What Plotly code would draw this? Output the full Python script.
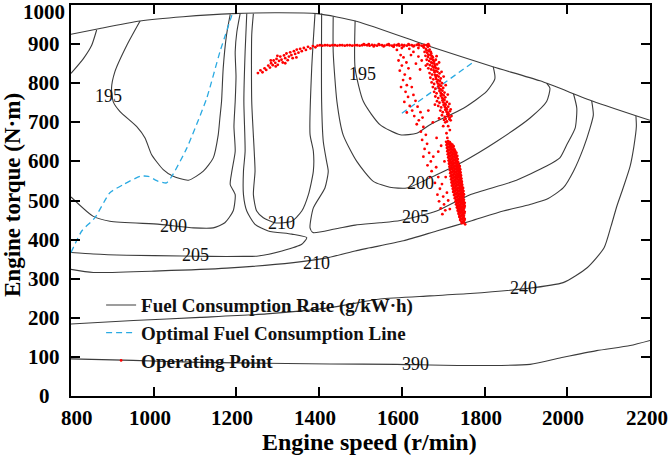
import plotly.graph_objects as go

# ---------------- axes ----------------
speed_ticks = [800, 1000, 1200, 1400, 1600, 1800, 2000, 2200]
torque_ticks = [0, 100, 200, 300, 400, 500, 600, 700, 800, 900, 1000]

# ---------------- fuel-consumption contours (speed r/min, torque N·m) ----------------
boundary_speed = [800, 870, 967, 1071, 1192, 1293, 1395, 1492, 1668, 1820, 1934, 2062, 2200]
boundary_torque = [925, 940, 959, 970, 978, 980, 978, 958, 894, 842, 806, 754, 705]

corner200_speed = [800, 830, 850, 862]
corner200_torque = [825, 863, 897, 936]

c195_left_speed = [967, 935, 906, 898, 902, 918, 959, 979, 995, 1023, 1047, 1084, 1120, 1144, 1156, 1160, 1164, 1168, 1176, 1185]
c195_left_torque = [959, 897, 829, 787, 753, 728, 689, 660, 617, 579, 562, 552, 575, 609, 668, 711, 753, 838, 923, 976]

c195_right_speed = [1487, 1487, 1507, 1547, 1596, 1636, 1668, 1749, 1805, 1825, 1821]
c195_right_torque = [960, 838, 753, 694, 668, 672, 694, 736, 779, 812, 842]

c200_left_speed = [1209, 1201, 1197, 1199, 1197, 1194, 1197, 1189, 1185, 1197, 1192, 1172, 1144, 1096, 1015, 894, 853, 800]
c200_left_torque = [978, 931, 880, 817, 753, 689, 626, 575, 541, 515, 473, 443, 430, 430, 439, 447, 460, 509]

c200_right_speed = [1434, 1434, 1443, 1458, 1491, 1531, 1571, 1612, 1684, 1749, 1829, 1910, 1950, 1958, 1950]
c200_right_torque = [970, 880, 753, 668, 600, 549, 534, 532, 566, 600, 651, 711, 753, 787, 800]

c205_left_speed = [1225, 1221, 1218, 1221, 1217, 1217, 1225, 1245, 1277, 1334, 1370, 1358, 1310, 1253, 1217, 1136, 1068, 935, 854, 800]
c205_left_torque = [978, 880, 753, 626, 575, 515, 473, 439, 422, 414, 405, 388, 371, 358, 357, 357, 358, 360, 363, 367]

c205_right_speed = [1406, 1406, 1410, 1418, 1422, 1414, 1386, 1378, 1385, 1438, 1487, 1547, 1596, 1684, 1765, 1870, 1950, 1982, 1999, 2019, 2023, 2015]
c205_right_torque = [978, 753, 651, 600, 575, 532, 481, 430, 418, 427, 437, 443, 449, 473, 515, 549, 588, 609, 643, 685, 736, 773]

c210_upper_speed = [1241, 1237, 1237, 1243, 1245, 1241, 1249, 1265, 1293, 1334, 1358, 1374, 1386, 1386, 1378, 1382, 1390]
c210_upper_torque = [978, 924, 753, 626, 575, 515, 473, 456, 443, 447, 473, 515, 575, 626, 669, 838, 978]

c210_lower_speed = [800, 854, 1015, 1177, 1338, 1422, 1487, 1523, 1604, 1684, 1765, 1845, 1910, 1950, 1990, 2015, 2039, 2055, 2063, 2059]
c210_lower_torque = [324, 316, 320, 327, 341, 354, 371, 379, 397, 422, 447, 473, 490, 503, 532, 575, 634, 685, 719, 755]

c240_speed = [800, 951, 1112, 1273, 1426, 1547, 1668, 1765, 1893, 1990, 2048, 2089, 2106, 2120, 2135, 2152, 2161, 2167, 2166]
c240_torque = [184, 193, 201, 210, 226, 248, 256, 262, 274, 290, 328, 379, 435, 486, 532, 588, 638, 689, 716]

c390_speed = [800, 950, 1112, 1426, 1588, 1749, 1910, 1990, 2071, 2152, 2200]
c390_torque = [95, 91, 86, 82, 81, 78, 81, 99, 116, 129, 142]

# contour labels
label_text = ["195", "195", "200", "200", "205", "205", "210", "210", "240", "390"]
label_speed = [890, 1504, 1047, 1644, 1102, 1632, 1310, 1394, 1894, 1632]
label_torque = [766, 824, 435, 546, 361, 458, 443, 341, 275, 81]

# ---------------- optimal fuel consumption line ----------------
optimal_speed = [800, 826, 858, 894, 927, 967, 987, 1011, 1031, 1044, 1080, 1128, 1160, 1189, None, 1600, 1777]
optimal_torque = [367, 422, 456, 520, 541, 562, 562, 549, 545, 562, 634, 761, 880, 974, None, 723, 857]

# ---------------- operating points (speed, torque) ----------------
op_streak = [(1252, 826), (1258, 833), (1263, 828), (1268, 838), (1272, 834), (1277, 845), (1281, 840),
             (1284, 851), (1288, 846), (1290, 858), (1294, 852), (1297, 862), (1300, 847), (1303, 857),
             (1306, 868), (1309, 860), (1312, 853), (1315, 871), (1318, 864), (1321, 876), (1324, 859),
             (1327, 868), (1330, 879), (1333, 872), (1336, 864), (1339, 882), (1342, 875), (1346, 886),
             (1350, 878), (1354, 888), (1358, 882), (1363, 890), (1368, 885), (1373, 893), (1379, 889),
             (1385, 895), (1391, 892), (1283, 858), (1299, 870), (1318, 851), (1345, 866), (1295, 843)]

op_fullload = [(1396, 896), (1402, 897), (1408, 896), (1414, 897), (1420, 897), (1426, 896), (1432, 897),
               (1438, 897), (1444, 896), (1450, 897), (1456, 897), (1462, 896), (1468, 897), (1474, 897),
               (1480, 896), (1486, 897), (1492, 897), (1498, 896), (1504, 897), (1510, 898), (1516, 897),
               (1522, 896), (1528, 898), (1534, 897), (1540, 896), (1546, 898), (1552, 897), (1558, 896),
               (1564, 898), (1570, 897), (1576, 896), (1582, 898), (1588, 897), (1594, 896), (1600, 898),
               (1606, 897), (1612, 896), (1618, 898), (1624, 897), (1630, 896), (1636, 898), (1642, 897),
               (1648, 896), (1654, 898), (1660, 897), (1666, 896), (1508, 900), (1520, 900), (1532, 894),
               (1544, 900), (1556, 894), (1568, 900), (1580, 894), (1592, 900), (1604, 894), (1616, 900),
               (1628, 894), (1640, 900), (1652, 894), (1664, 900)]

op_stream = [(1653, 891), (1658, 888), (1663, 893), (1667, 886), (1655, 880), (1661, 878), (1666, 882),
             (1671, 876), (1657, 870), (1663, 867), (1669, 872), (1675, 866), (1660, 860), (1666, 857),
             (1672, 862), (1678, 855), (1682, 860), (1662, 849), (1668, 846), (1674, 851), (1680, 844),
             (1685, 848), (1664, 838), (1671, 835), (1677, 840), (1683, 832), (1688, 837), (1667, 826),
             (1673, 822), (1679, 828), (1685, 820), (1691, 825), (1669, 814), (1676, 810), (1682, 816),
             (1688, 808), (1694, 812), (1672, 802), (1678, 798), (1685, 804), (1691, 796), (1697, 800),
             (1675, 790), (1681, 786), (1688, 792), (1694, 784), (1700, 788), (1678, 778), (1684, 774),
             (1691, 780), (1697, 772), (1703, 776), (1681, 766), (1688, 762), (1694, 768), (1700, 760),
             (1705, 764), (1685, 754), (1691, 750), (1698, 756), (1704, 748), (1709, 752), (1688, 742),
             (1695, 738), (1701, 744), (1707, 736), (1712, 740), (1693, 730), (1699, 726), (1705, 732),
             (1711, 724), (1716, 728), (1697, 718), (1704, 714), (1710, 720), (1716, 712), (1720, 716),
             (1702, 706), (1709, 702), (1715, 708), (1684, 869), (1690, 853), (1696, 829), (1701, 817),
             (1706, 795), (1711, 771), (1715, 747), (1718, 733),
             (1660, 884), (1670, 880), (1664, 873), (1673, 869), (1669, 863), (1676, 859), (1671, 853),
             (1679, 849), (1674, 843), (1682, 839), (1677, 833), (1686, 829), (1680, 821), (1689, 817),
             (1683, 811), (1692, 805), (1687, 799), (1695, 793), (1690, 787), (1698, 781), (1694, 775),
             (1701, 769), (1697, 763), (1703, 757), (1700, 751), (1706, 745), (1704, 739), (1709, 733),
             (1708, 727), (1713, 721), (1712, 715), (1706, 709)]

op_sparse = [(1588, 885), (1597, 872), (1592, 858), (1604, 866), (1600, 845), (1611, 853), (1595, 832),
             (1607, 822), (1603, 808), (1616, 838), (1612, 795), (1598, 790), (1620, 812), (1609, 778),
             (1624, 790), (1615, 765), (1606, 752), (1628, 770), (1619, 742), (1633, 755), (1625, 730),
             (1612, 725), (1638, 740), (1630, 716), (1645, 726), (1641, 705), (1650, 712), (1636, 695),
             (1652, 688), (1646, 676), (1658, 668), (1649, 655), (1661, 645), (1655, 632), (1666, 622),
             (1652, 612), (1670, 600), (1662, 590), (1676, 612), (1672, 575), (1683, 585), (1668, 560),
             (1688, 560), (1680, 545), (1692, 530), (1686, 515), (1697, 542), (1690, 498), (1700, 510),
             (1694, 480), (1702, 490), (1698, 465), (1705, 475), (1688, 625), (1695, 640), (1684, 660),
             (1700, 690), (1675, 700), (1690, 710), (1664, 730), (1680, 745), (1628, 880), (1640, 868),
             (1634, 850), (1648, 858), (1622, 872), (1644, 835), (1658, 845), (1618, 888), (1640, 890),
             (1580, 893), (1600, 890), (1703, 600), (1706, 560), (1709, 520), (1712, 500), (1716, 478),
             (1705, 700), (1712, 690), (1708, 672), (1716, 680), (1710, 660), (1718, 705)]

op_cluster = [(1707, 650), (1712, 652), (1716, 649),
              (1708, 642), (1713, 644), (1718, 641), (1722, 643),
              (1709, 634), (1714, 636), (1719, 633), (1724, 635),
              (1710, 626), (1715, 628), (1720, 625), (1725, 627), (1729, 626),
              (1711, 618), (1716, 620), (1721, 617), (1726, 619), (1730, 618),
              (1712, 610), (1717, 612), (1722, 609), (1727, 611), (1732, 610),
              (1713, 602), (1718, 604), (1723, 601), (1728, 603), (1733, 602),
              (1714, 594), (1719, 596), (1724, 593), (1729, 595), (1734, 594), (1737, 592),
              (1715, 586), (1720, 588), (1725, 585), (1730, 587), (1735, 586), (1739, 584),
              (1716, 578), (1721, 580), (1726, 577), (1731, 579), (1736, 578), (1740, 576),
              (1717, 570), (1722, 572), (1727, 569), (1732, 571), (1737, 570), (1741, 568),
              (1718, 562), (1723, 564), (1728, 561), (1733, 563), (1738, 562), (1742, 560),
              (1719, 554), (1724, 556), (1729, 553), (1734, 555), (1739, 554), (1743, 552),
              (1720, 546), (1725, 548), (1730, 545), (1735, 547), (1740, 546), (1744, 544),
              (1721, 538), (1726, 540), (1731, 537), (1736, 539), (1741, 538), (1745, 536),
              (1723, 530), (1728, 532), (1733, 529), (1738, 531), (1743, 530), (1746, 528),
              (1724, 522), (1729, 524), (1734, 521), (1739, 523), (1744, 522), (1747, 520),
              (1726, 514), (1731, 516), (1736, 513), (1741, 515), (1745, 514), (1748, 512),
              (1728, 506), (1733, 508), (1738, 505), (1743, 507), (1747, 506),
              (1730, 498), (1735, 500), (1740, 497), (1745, 499), (1749, 498),
              (1731, 490), (1736, 492), (1741, 489), (1746, 491), (1750, 490),
              (1733, 482), (1738, 484), (1743, 481), (1748, 483), (1751, 482),
              (1735, 474), (1740, 476), (1745, 473), (1749, 475),
              (1737, 466), (1742, 468), (1747, 465), (1751, 467),
              (1739, 458), (1744, 460), (1749, 457),
              (1741, 450), (1746, 452), (1751, 449),
              (1745, 442), (1750, 444)]

op_cluster_fill = [(1710, 646), (1715, 647), (1719, 645),
                   (1711, 638), (1716, 639), (1720, 637), (1725, 639),
                   (1712, 630), (1717, 631), (1722, 629), (1727, 631),
                   (1713, 622), (1718, 623), (1723, 621), (1728, 623), (1732, 622),
                   (1714, 614), (1719, 615), (1724, 613), (1729, 615), (1734, 614),
                   (1715, 606), (1720, 607), (1725, 605), (1730, 607), (1735, 606),
                   (1716, 598), (1721, 599), (1726, 597), (1731, 599), (1736, 598),
                   (1717, 590), (1722, 591), (1727, 589), (1732, 591), (1737, 590), (1740, 588),
                   (1718, 582), (1723, 583), (1728, 581), (1733, 583), (1738, 582), (1741, 580),
                   (1719, 574), (1724, 575), (1729, 573), (1734, 575), (1739, 574), (1742, 572),
                   (1720, 566), (1725, 567), (1730, 565), (1735, 567), (1740, 566), (1743, 564),
                   (1721, 558), (1726, 559), (1731, 557), (1736, 559), (1741, 558), (1744, 556),
                   (1722, 550), (1727, 551), (1732, 549), (1737, 551), (1742, 550), (1745, 548),
                   (1723, 542), (1728, 543), (1733, 541), (1738, 543), (1743, 542), (1746, 540),
                   (1725, 534), (1730, 535), (1735, 533), (1740, 535), (1745, 534), (1748, 532),
                   (1726, 526), (1731, 527), (1736, 525), (1741, 527), (1746, 526), (1749, 524),
                   (1728, 518), (1733, 519), (1738, 517), (1743, 519), (1747, 518), (1750, 516),
                   (1730, 510), (1735, 511), (1740, 509), (1745, 511), (1749, 510),
                   (1731, 502), (1736, 503), (1741, 501), (1746, 503), (1750, 502),
                   (1733, 494), (1738, 495), (1743, 493), (1748, 495), (1752, 494),
                   (1734, 486), (1739, 487), (1744, 485), (1749, 487), (1752, 486),
                   (1736, 478), (1741, 479), (1746, 477), (1750, 479),
                   (1738, 470), (1743, 471), (1748, 469), (1752, 471),
                   (1740, 462), (1745, 463), (1750, 461),
                   (1742, 454), (1747, 455), (1752, 453),
                   (1744, 446), (1749, 447), (1753, 439)]

# ---------------- build figure ----------------
contours = [
    (boundary_speed, boundary_torque), (corner200_speed, corner200_torque),
    (c195_left_speed, c195_left_torque), (c195_right_speed, c195_right_torque),
    (c200_left_speed, c200_left_torque), (c200_right_speed, c200_right_torque),
    (c205_left_speed, c205_left_torque), (c205_right_speed, c205_right_torque),
    (c210_upper_speed, c210_upper_torque), (c210_lower_speed, c210_lower_torque),
    (c240_speed, c240_torque), (c390_speed, c390_torque),
]
cx, cy = [], []
for sx, sy in contours:
    cx += list(sx) + [None]
    cy += list(sy) + [None]

FONT = "Liberation Serif"

fig = go.Figure()
fig.add_trace(go.Scatter(
    x=cx, y=cy, mode="lines", name="Fuel Consumption Rate (g/kW·h)",
    line=dict(color="#3c3c3c", width=1.1, shape="spline", smoothing=0.6),
    connectgaps=False,
))
fig.add_trace(go.Scatter(
    x=optimal_speed, y=optimal_torque, mode="lines", name="Optimal Fuel Consumption Line",
    line=dict(color="#2aaae2", width=1.3, dash="6px,4px", shape="spline", smoothing=0.5),
    connectgaps=False,
))
all_points = op_streak + op_fullload + op_stream + op_sparse + op_cluster + op_cluster_fill
fig.add_trace(go.Scatter(
    x=[p[0] for p in all_points], y=[p[1] for p in all_points], mode="markers",
    name="Operating Point",
    marker=dict(color="#ff0000", size=2.8, line=dict(width=0)),
))

# contour value labels
for t, sx, sy in zip(label_text, label_speed, label_torque):
    fig.add_annotation(x=sx, y=sy, text=t, showarrow=False,
                       font=dict(family=FONT, size=18, color="#111111"))

TICKFONT = dict(family=FONT, size=21, color="black", weight=700)

# y tick labels (centred column, as in the reference)
for v in torque_ticks:
    fig.add_annotation(x=-0.0466, xref="paper", y=v, yref="y", text=str(v),
                       showarrow=False, xanchor="center", yanchor="middle",
                       yshift=-6.5 if v == 1000 else 0, font=TICKFONT)
# x tick labels
for v in speed_ticks:
    shift = 6 if v == 800 else (-3 if v == 2200 else -4)
    fig.add_annotation(x=v, xref="x", y=0, yref="paper", text=str(v),
                       showarrow=False, xanchor="center", yanchor="middle",
                       yshift=-22, xshift=shift, font=TICKFONT)

# axis titles
fig.add_annotation(x=0.516, xref="paper", y=-0.118, yref="paper",
                   text="Engine speed (r/min)", showarrow=False,
                   xanchor="center", yanchor="middle",
                   font=dict(family=FONT, size=24, color="black", weight=700))
fig.add_annotation(x=-0.102, xref="paper", y=0.514, yref="paper",
                   text="Engine torque (N·m)", showarrow=False, textangle=-90,
                   xanchor="center", yanchor="middle",
                   font=dict(family=FONT, size=23, color="black", weight=700))

axis_common = dict(
    showline=True, linecolor="black", linewidth=2, mirror="ticks",
    ticks="inside", ticklen=9, tickwidth=2, tickcolor="black",
    showgrid=False, zeroline=False, showticklabels=False,
)
fig.update_xaxes(range=[800, 2200], tickvals=speed_ticks, **axis_common)
fig.update_yaxes(range=[0, 1000], tickvals=torque_ticks, **axis_common)

fig.update_layout(
    width=669, height=461,
    margin=dict(l=71, r=19, t=3, b=65),
    plot_bgcolor="white", paper_bgcolor="white",
    legend=dict(x=0.052, y=0.281, xanchor="left", yanchor="top",
                bgcolor="rgba(0,0,0,0)", borderwidth=0,
                font=dict(family=FONT, size=19, color="#111111", weight=700),
                itemwidth=30, tracegroupgap=0),
    showlegend=True,
)

fig.write_html("out.html")
